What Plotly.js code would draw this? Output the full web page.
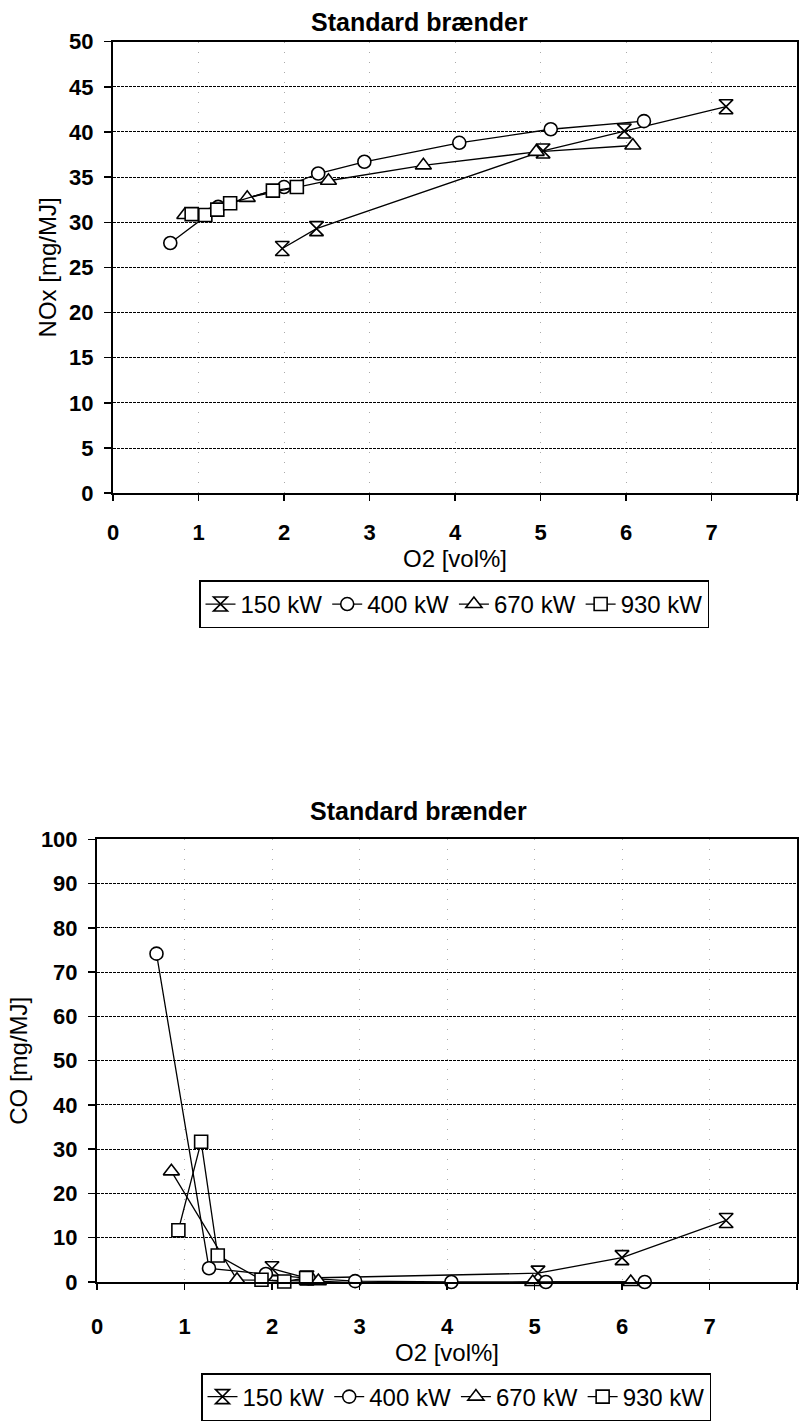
<!DOCTYPE html>
<html>
<head>
<meta charset="utf-8">
<script src="https://cdn.plot.ly/plotly-3.0.1.min.js"></script>
<style>
html,body{margin:0;padding:0;background:#fff;}
#chart{width:801px;height:1421px;}
</style>
</head>
<body>
<div id="chart"></div>
<script>
// ---- Data ----
const seriesNames = ["150 kW", "400 kW", "670 kW", "930 kW"];
const xTicks = [0, 1, 2, 3, 4, 5, 6, 7, 8];

// NOx chart (top)
const nox150x = [1.98, 2.38, 5.03, 5.98, 7.17];
const nox150y = [27.1, 29.3, 37.9, 40.1, 42.8];
const nox400x = [0.67, 1.23, 2.0, 2.40, 2.94, 4.05, 5.12, 6.21];
const nox400y = [27.7, 31.7, 33.9, 35.4, 36.7, 38.8, 40.3, 41.2];
const nox670x = [0.84, 1.57, 2.52, 3.63, 4.95, 6.08];
const nox670y = [30.8, 32.7, 34.6, 36.3, 37.8, 38.5];
const nox930x = [0.92, 1.08, 1.22, 1.37, 1.87, 2.15];
const nox930y = [30.9, 30.8, 31.4, 32.1, 33.5, 33.9];

// CO chart (bottom)
const co150x = [2.0, 2.4, 5.04, 6.0, 7.19];
const co150y = [3.0, 0.9, 2.0, 5.5, 13.9];
const co400x = [0.68, 1.28, 1.93, 2.42, 2.95, 4.05, 5.13, 6.26];
const co400y = [74.2, 3.1, 1.8, 0.8, 0.2, 0.0, 0.0, 0.0];
const co670x = [0.85, 1.6, 2.53, 3.68, 4.98, 6.1];
const co670y = [25.0, 0.5, 0.2, -0.8, 0.0, 0.0];
const co930x = [0.93, 1.19, 1.38, 1.88, 2.14, 2.39];
const co930y = [11.7, 31.7, 6.0, 0.5, 0.1, 0.9];

const titleText = "Standard brænder";
const xTitle = "O2 [vol%]";
const yTitleTop = "NOx [mg/MJ]";
const yTitleBottom = "CO [mg/MJ]";

// ---- Layout helpers ----
const W = 801, H = 1421;
const px = v => v / W;
const py = v => 1 - v / H;
const FONT = "Liberation Sans, Arial, Helvetica, sans-serif";
const symbols = ["hourglass", "circle", "triangle-up", "square"];
const msize = [14, 13, 14, 13];

function mk(x, y, i, xa, ya, leg) {
  return {
    x: x, y: y, name: seriesNames[i], type: "scatter", mode: "lines+markers",
    xaxis: xa, yaxis: ya, legend: leg, cliponaxis: false,
    line: {color: "#000", width: 1.3},
    marker: {symbol: symbols[i], size: msize[i], color: "#fff", line: {color: "#000", width: 1.6}}
  };
}

const data = [
  mk(nox150x, nox150y, 0, "x", "y", "legend"),
  mk(nox400x, nox400y, 1, "x", "y", "legend"),
  mk(nox670x, nox670y, 2, "x", "y", "legend"),
  mk(nox930x, nox930y, 3, "x", "y", "legend"),
  mk(co150x, co150y, 0, "x2", "y2", "legend2"),
  mk(co400x, co400y, 1, "x2", "y2", "legend2"),
  mk(co670x, co670y, 2, "x2", "y2", "legend2"),
  mk(co930x, co930y, 3, "x2", "y2", "legend2")
];

function xaxisDef(l, r, anchor, lblOff) {
  return {
    domain: [px(l), px(r)], anchor: anchor, range: [0, 8], tickvals: xTicks,
    showline: true, linecolor: "#000", linewidth: 2, mirror: true,
    ticks: "outside", ticklen: 6, tickwidth: 1.5, tickcolor: "#000",
    showgrid: true, gridcolor: "#aaa", griddash: "1px,9px", gridwidth: 1,
    zeroline: false,
    tickfont: {family: FONT, size: 22, color: "#000", weight: "bold"},
    ticklabelstandoff: lblOff,
    title: {text: xTitle, font: {family: FONT, size: 24, color: "#000"}, standoff: 4}
  };
}
function yaxisDef(t, b, anchor, maxv, step, ttl) {
  return {
    domain: [py(b), py(t)], anchor: anchor, range: [0, maxv], dtick: step,
    showline: true, linecolor: "#000", linewidth: 2, mirror: true,
    ticks: "outside", ticklen: 7, tickwidth: 1.5, tickcolor: "#000",
    showgrid: true, gridcolor: "#000", griddash: "3px,1px", gridwidth: 1,
    zeroline: false,
    tickfont: {family: FONT, size: 22, color: "#000", weight: "bold"},
    ticklabelstandoff: 6,
    title: {text: ttl, font: {family: FONT, size: 24, color: "#000"}, standoff: 6}
  };
}

const legendDef = (xc, yTop) => ({
  orientation: "h", x: px(xc), xanchor: "center", y: py(yTop), yanchor: "top",
  bordercolor: "#000", borderwidth: 1.5, bgcolor: "#fff",
  font: {family: FONT, size: 24, color: "#000"},
  itemwidth: 30, tracegroupgap: 0, itemclick: false
});

const layout = {
  width: W, height: H,
  margin: {l: 0, r: 0, t: 0, b: 0},
  paper_bgcolor: "#fff", plot_bgcolor: "#fff",
  font: {family: FONT, color: "#000"},
  showlegend: true,
  xaxis: xaxisDef(113, 797, "y", 12),
  yaxis: yaxisDef(42, 497, "x", 50, 5, yTitleTop),
  xaxis2: xaxisDef(97, 797, "y2", 18),
  yaxis2: yaxisDef(846, 1292, "x2", 100, 10, yTitleBottom),
  legend: legendDef(454, 585),
  legend2: legendDef(456, 1384),
  annotations: [
    {text: titleText, xref: "paper", yref: "paper", x: px(420), y: py(22), xanchor: "center", yanchor: "middle",
     showarrow: false, font: {family: FONT, size: 25, color: "#000", weight: "bold"}},
    {text: titleText, xref: "paper", yref: "paper", x: px(418), y: py(817), xanchor: "center", yanchor: "middle",
     showarrow: false, font: {family: FONT, size: 25, color: "#000", weight: "bold"}}
  ]
};

Plotly.newPlot("chart", data, layout, {displayModeBar: false, staticPlot: true});
</script>
</body>
</html>
